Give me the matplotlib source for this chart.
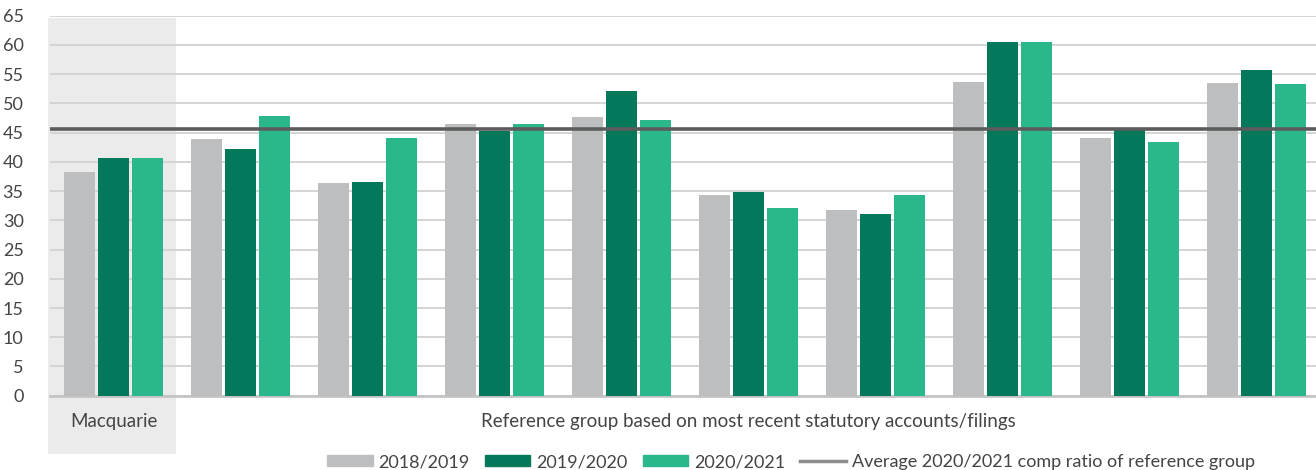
import matplotlib
matplotlib.use('Agg')
from matplotlib import pyplot as plt
from matplotlib.patches import Rectangle, Patch
from matplotlib.lines import Line2D
import numpy as np

plt.rcParams['font.family'] = ['Lato', 'DejaVu Sans']

groups = ['Macquarie', '', '', '', '', '', '', '', '', '']
fy2019 = [38.3, 43.9, 36.4, 46.5, 47.7, 34.3, 31.8, 53.7, 44.1, 53.5]
fy2020 = [40.7, 42.2, 36.6, 45.3, 52.1, 34.8, 31.1, 60.5, 45.6, 55.7]
fy2021 = [40.7, 47.8, 44.1, 46.5, 47.2, 32.1, 34.3, 60.5, 43.4, 53.3]
average_2021 = 45.6
series_labels = ['2018/2019', '2019/2020', '2020/2021']
avg_label = 'Average 2020/2021 comp ratio of reference group'
ref_label = 'Reference group based on most recent statutory accounts/filings'

c_grey = '#bdbec0'
c_dark = '#04785a'
c_light = '#2ab78b'
c_avg = '#5c5c5c'
txt = '#444444'

W, H = 1316, 470
fig = plt.figure(figsize=(W / 100, H / 100), dpi=100)
y0, y65 = 395.7, 15.7
ax = fig.add_axes([50 / W, (H - y0) / H, 1 - 50 / W, (y0 - y65) / H])
ax.patch.set_alpha(0)

x = np.arange(len(groups))
w = 0.244
step = 0.268
ax.bar(x - step, fy2019, w, color=c_grey, zorder=3)
ax.bar(x, fy2020, w, color=c_dark, zorder=3)
ax.bar(x + step, fy2021, w, color=c_light, zorder=3)
ax.axhline(average_2021, color=c_avg, lw=2.6, zorder=4)

ax.set_xlim(-0.5, 9.47)
ax.set_ylim(0, 65)
ax.set_yticks(range(0, 70, 5))
ax.yaxis.grid(True, color='#d4d4d4', lw=1.4)
ax.set_axisbelow(True)
for s in ['top', 'right', 'left']:
    ax.spines[s].set_visible(False)
ax.spines['bottom'].set_color('#c4c4c4')
ax.spines['bottom'].set_linewidth(2)
ax.tick_params(axis='y', length=0, pad=19, labelsize=13, labelcolor=txt)
ax.set_xticks([])

# shaded Macquarie column, reaching below the axis
trans = ax.get_xaxis_transform()
ybot = -(453.7 - y0) / (y0 - y65)
ytop = 1 - (18 - y65) / (y0 - y65)
ax.add_patch(Rectangle((-0.516, ybot), 1.008, ytop - ybot, transform=trans,
                       facecolor='#ebebeb', edgecolor='none', zorder=0.1,
                       clip_on=False))

lab_y = -(421.7 - y0) / (y0 - y65)
ax.text(0, lab_y, groups[0], transform=trans, ha='center', va='center',
        fontsize=13.5, color=txt)
ax.text(5.0, lab_y, ref_label, transform=trans, ha='center', va='center',
        fontsize=13.5, color=txt)

handles = [Patch(color=c_grey), Patch(color=c_dark), Patch(color=c_light),
           Line2D([0], [0], color='#8c8c8c', lw=2.5)]
fig.legend(handles, series_labels + [avg_label], loc='center',
           bbox_to_anchor=(791 / W, (H - 462) / H), ncol=4, frameon=False,
           fontsize=13, labelcolor=txt, handlelength=2.5, handleheight=0.6,
           handletextpad=0.33, columnspacing=0.85, borderpad=0)

fig.savefig('out.png', dpi=100)
